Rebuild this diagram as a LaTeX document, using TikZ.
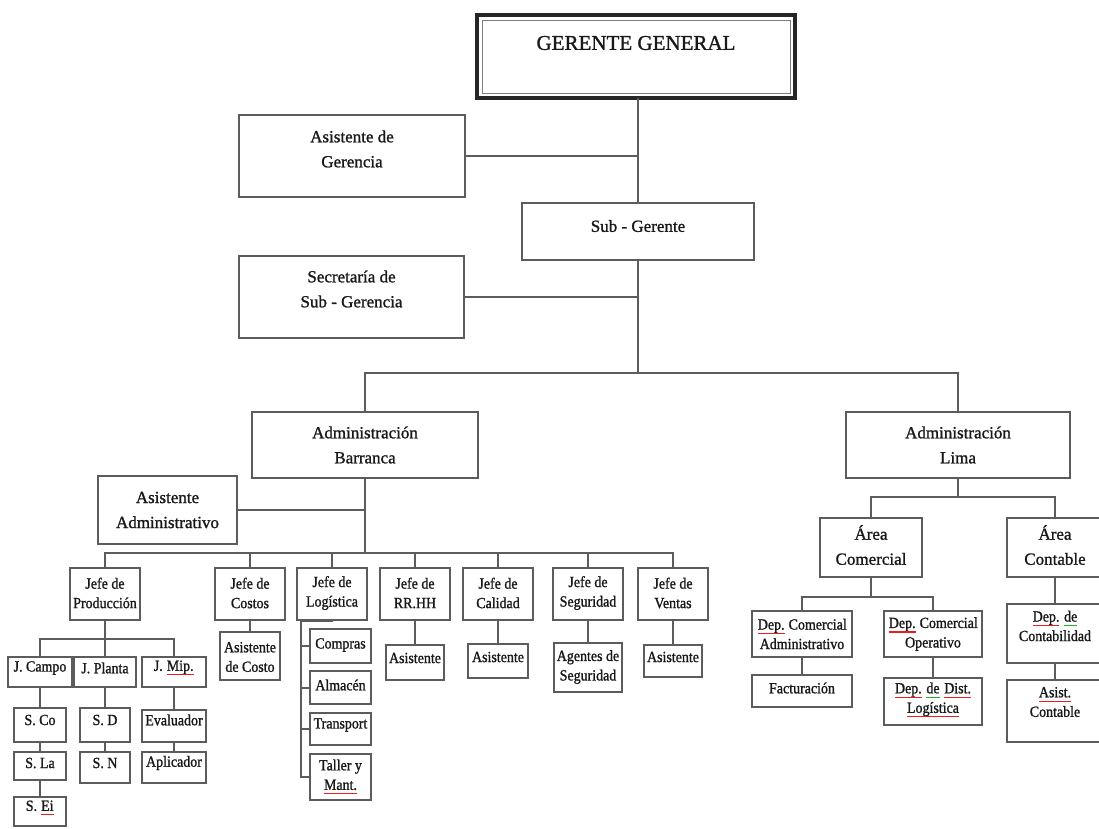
\documentclass[tikz,border=0pt]{standalone}
\usepackage{fontspec}
\setmainfont{Liberation Serif}[FakeBold=1.2]
\newfontfamily\chartfont[FakeStretch=0.9,FakeBold=1.2]{Liberation Serif}

\definecolor{boxgray}{RGB}{92,92,92}
\definecolor{txtc}{RGB}{25,25,25}
\definecolor{squigred}{RGB}{235,30,30}
\definecolor{squiggreen}{RGB}{40,180,40}

% coloured underline (spell-check marks), drawn as a tikz overlay
\newcommand\squig[2]{\tikz[baseline=(w.base)]{\node[inner sep=0pt,outer sep=0pt] (w) {#2};
  \draw[#1, line width=1.2pt] ([yshift=-4pt]w.base west) -- ([yshift=-4pt]w.base east);}}

\tikzset{
  bx/.style={draw=boxgray, line width=2pt, rectangle, inner sep=0pt, outer sep=0pt},
  txt/.style={align=center, inner sep=0pt, text=txtc},
  big/.style={font=\fontsize{17}{25}\selectfont},
  sml/.style={font=\chartfont\fontsize{15.5}{19.5}\selectfont},
  wire/.style={draw=boxgray, line width=2pt},
}

% box from (x1,y1) to (x2,y2) with its label centred at height ty
% #1 label style, #2 name, #3 x1, #4 y1, #5 x2, #6 y2, #7 ty, #8 label
\newcommand\orgbox[8][]{%
  \node[bx, minimum width={#5-#3}, minimum height={#6-#4}] (#2) at ({(#3+#5)/2},{(#4+#6)/2}) {};
  \node[txt,#1] (#2-t) at ({(#3+#5)/2},#7) {#8};
}

\begin{document}
\begin{tikzpicture}[x=1pt,y=-1pt]
\fill[white] (0,0) rectangle (1099,828);
\useasboundingbox (0,0) rectangle (1099,828);

% ---- top management
\node[bx, draw=black!85, line width=4pt, minimum width=318, minimum height=83] (gg) at (636,56.5) {};
\draw[boxgray!80, line width=1pt] ([shift={(5,5)}]gg.north west) rectangle ([shift={(-5,-5)}]gg.south east);
\node[txt, font=\fontsize{21}{25}\selectfont] (gg-t) at (636,43) {GERENTE GENERAL};

\orgbox[big]{ag}{239}{115}{465}{197}{149}{Asistente de\\Gerencia}
\orgbox[big]{sg}{522}{203}{754}{260}{226}{Sub - Gerente}
\orgbox[big]{ss}{239}{256}{464}{338}{289}{Secretaría de\\Sub - Gerencia}
\orgbox[big]{ab}{252}{412}{478}{478}{445}{Administración\\Barranca}
\orgbox[big]{al}{846}{412}{1070}{478}{445}{Administración\\Lima}
\orgbox[big]{aa}{98}{476}{237}{544}{510}{Asistente\\Administrativo}

% ---- heads of department (Barranca)
\orgbox[sml]{jp}{70}{568}{140}{620}{593}{Jefe de\\Producción}
\orgbox[sml]{jc}{215}{568}{285}{620}{593}{Jefe de\\Costos}
\orgbox[sml]{jl}{297}{568}{367}{620}{593}{Jefe de\\Logística}
\orgbox[sml]{jr}{380}{568}{450}{620}{593}{Jefe de\\RR.HH}
\orgbox[sml]{jq}{463}{568}{533}{620}{593}{Jefe de\\Calidad}
\orgbox[sml]{js}{553}{568}{623}{620}{593}{Jefe de\\Seguridad}
\orgbox[sml]{jv}{638}{568}{708}{620}{593}{Jefe de\\Ventas}

% ---- production
\orgbox[sml]{campo}{8}{657}{72}{687}{668}{J. Campo}
\orgbox[sml]{planta}{74}{657}{136}{687}{668}{J. Planta}
\orgbox[sml]{mip}{142}{657}{206}{687}{668}{J. \squig{squigred}{Mip.}}
\orgbox[sml]{sco}{14}{708}{66}{742}{720}{S. Co}
\orgbox[sml]{sla}{14}{752}{66}{780}{763}{S. La}
\orgbox[sml]{sei}{14}{797}{66}{826}{808}{S. \squig{squigred}{Ei}}
\orgbox[sml]{sd}{80}{708}{130}{742}{720}{S. D}
\orgbox[sml]{sn}{80}{752}{130}{783}{763}{S. N}
\orgbox[sml]{ev}{142}{710}{206}{742}{720}{Evaluador}
\orgbox[sml]{apl}{142}{752}{206}{783}{763}{Aplicador}

% ---- other departments
\orgbox[sml]{asc}{220}{632}{280}{680}{657}{Asistente\\de Costo}
\orgbox[sml]{comp}{310}{629}{371}{663}{645}{Compras}
\orgbox[sml]{alm}{310}{671}{371}{704}{685}{Almacén}
\orgbox[sml]{trans}{310}{713}{371}{745}{725}{Transport}
\orgbox[sml]{taller}{310}{754}{371}{800}{777}{Taller y\\\squig{squigred}{Mant.}}
\orgbox[sml]{asr}{386}{645}{444}{680}{658}{Asistente}
\orgbox[sml]{asq}{468}{644}{528}{678}{657}{Asistente}
\orgbox[sml]{ags}{554}{643}{622}{692}{667}{Agentes de\\Seguridad}
\orgbox[sml]{asv}{644}{645}{702}{677}{657}{Asistente}

% ---- Lima
\orgbox[big]{ac}{820}{518}{922}{577}{545}{Área\\Comercial}
\orgbox[big]{act}{1007}{518}{1103}{577}{545}{Área\\Contable}
\orgbox[sml]{dca}{752}{611}{852}{657}{634}{\squig{squigred}{Dep.} Comercial\\Administrativo}
\orgbox[sml]{dco}{884}{611}{982}{657}{634}{\squig{squigred}{Dep.} Comercial\\Operativo}
\orgbox[sml]{fac}{752}{675}{852}{707}{688}{Facturación}
\orgbox[sml]{ddl}{884}{678}{982}{725}{700}{\squig{squigred}{Dep.} \squig{squiggreen}{de} \squig{squigred}{Dist.}\\\squig{squigred}{Logística}}
\orgbox[sml]{dc}{1007}{604}{1103}{663}{626}{\squig{squigred}{Dep.} \squig{squiggreen}{de}\\Contabilidad}
\orgbox[sml]{asc2}{1007}{680}{1103}{742}{702}{\squig{squigred}{Asist.}\\Contable}

% ---- connectors: top
\draw[wire] (sg.north |- gg.south) -- (sg.north);
\draw[wire] (ag.east) -- (ag.east -| sg.north);
\draw[wire] (ss.east) -- (ss.east -| sg.south);
\coordinate (bar) at (638,373);
\draw[wire] (sg.south) -- (bar);
\draw[wire] (ab.north) |- (bar) -| (al.north);

% ---- connectors: Barranca
\coordinate (bbar) at (365,553);
\draw[wire] (ab.south) -- (bbar);
\draw[wire] (aa.east) -- (aa.east -| ab.south);
\draw[wire] (jp.north) |- (bbar) -| (jv.north);
\foreach \n in {jc,jl,jr,jq,js}
  \draw[wire] (\n.north) -- (\n.north |- bbar);

\coordinate (pbar) at (105,639);
\draw[wire] (jp.south) -- (planta.north);
\draw[wire] (campo.north) |- (pbar) -| (mip.north);
\draw[wire] (sco.north |- campo.south) -- (sco.north);
\draw[wire] (sco.south) -- (sla.north);
\draw[wire] (sla.south) -- (sei.north);
\draw[wire] (planta.south) -- (planta.south |- sd.north);
\draw[wire] (sd.south) -- (sn.north);
\draw[wire] (mip.south) -- (mip.south |- ev.north);
\draw[wire] (ev.south) -- (apl.north);

\draw[wire] (jc.south) -- (jc.south |- asc.north);
\coordinate (ltop) at (301,621);
\draw[wire] (jl.south) |- (ltop) |- (taller.west);
\foreach \n in {comp,alm,trans}
  \draw[wire] (\n.west) -- (\n.west -| ltop);
\draw[wire] (jr.south) -- (jr.south |- asr.north);
\draw[wire] (jq.south) -- (jq.south |- asq.north);
\draw[wire] (js.south) -- (js.south |- ags.north);
\draw[wire] (jv.south) -- (jv.south |- asv.north);

% ---- connectors: Lima
\draw[wire] (al.south) -- ++(0,19);
\draw[wire] (ac.north) -- ++(0,-21) -| (act.north);
\coordinate (cbar) at (871,597);
\draw[wire] (ac.south) -- (cbar);
\draw[wire] (dca.north) |- (cbar) -| (dco.north);
\draw[wire] (dca.south) -- (dca.south |- fac.north);
\draw[wire] (dco.south) -- (dco.south |- ddl.north);
\draw[wire] (act.south) -- (dc.north);
\draw[wire] (dc.south) -- (asc2.north);
\end{tikzpicture}
\end{document}
